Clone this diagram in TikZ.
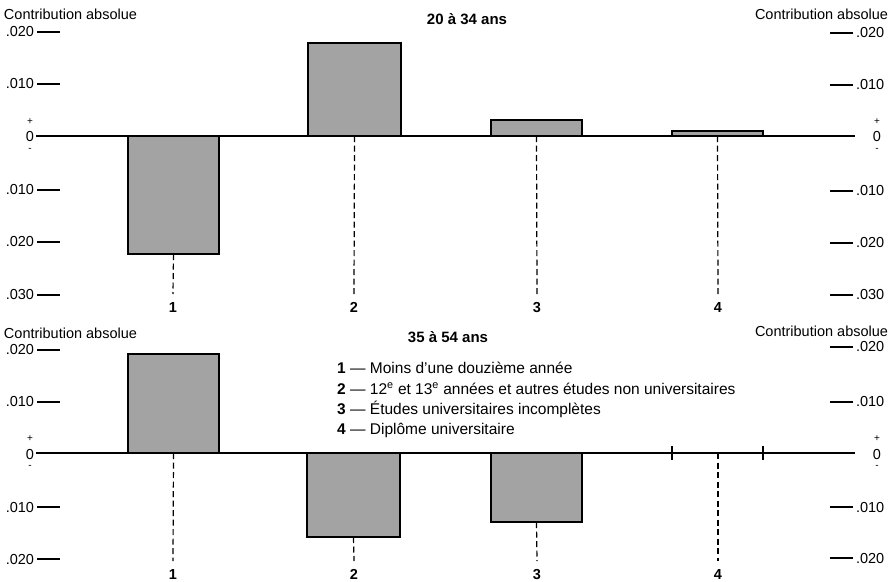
\documentclass[tikz,border=0pt]{standalone}
\usepackage{fontspec}
\setmainfont{Liberation Sans}
\begin{document}
\begin{tikzpicture}[x=1pt,y=-1pt,
  font=\fontsize{14.5}{17}\selectfont,
  axisline/.style={line width=1.7pt},
  tk/.style={line width=1.4pt},
  bar/.style={draw, line width=1.6pt, fill=black!36, inner sep=0pt, outer sep=0pt},
  dsh/.style={line width=1.2pt, dash pattern=on 6pt off 3.5pt},
  lab/.style={inner sep=0pt, outer sep=0pt},
  catlab/.style={inner sep=0pt, anchor=base, font=\fontsize{14.5}{17}\selectfont\bfseries},
  sign/.style={inner sep=0pt, font=\fontsize{10}{10}\selectfont},
  legend/.style={inner sep=0pt, anchor=base west, font=\fontsize{15.5}{18}\selectfont},
  title/.style={inner sep=0pt, font=\fontsize{15}{18}\selectfont\bfseries}]
\useasboundingbox (0,0) rectangle (896,581);

% ================= top panel =================
\node[lab, anchor=west] (ctl) at (4,14) {Contribution absolue};
\node[lab, anchor=east] (ctr) at (888,14) {Contribution absolue};
\node[title] (t1) at (467,19) {20 à 34 ans};

\foreach \y/\t [count=\i] in {32/.020, 84/.010, 190/.010, 242/.020, 295/.030} {
  \node[lab, anchor=east] (tl\i) at (34,\y) {\t};
  \draw[tk] ([xshift=3pt]tl\i.east) -- ++(23,0);
}
\foreach \y/\t [count=\i] in {33/.020, 85/.010, 191/.010, 243/.020, 295/.030} {
  \node[lab, anchor=west] (tr\i) at (856,\y) {\t};
  \draw[tk] ([xshift=-3pt]tr\i.west) -- ++(-23,0);
}
\node[lab] (tz0) at (30,137) {0};
\node[sign] (tp0) at (30,122) {+};
\node[sign] (tm0) at (30,150) {-};
\node[lab] (tzr) at (877,137) {0};
\node[sign] (tpr) at (877,122) {+};
\node[sign] (tmr) at (877,150) {-};
\coordinate (ta0) at (36,136);
\coordinate (ta1) at (855,136);
\draw[axisline] (ta0) -- (ta1);

\node[bar, anchor=north west, minimum width=91pt, minimum height=118pt] (tb1) at (128,136) {};
\node[bar, anchor=south west, minimum width=93pt, minimum height=93pt] (tb2) at (308,136) {};
\node[bar, anchor=south west, minimum width=91pt, minimum height=16pt] (tb3) at (491,136) {};
\node[bar, anchor=south west, minimum width=91pt, minimum height=5pt] (tb4) at (672,136) {};

\foreach \x/\n in {173/1, 354/2, 537/3, 718/4} {
  \node[catlab] (tc\n) at (\x,312) {\n};
  \coordinate (te\n) at (\x,294);
}
\draw[dsh] (tb1.south) -- (te1);
\draw[dsh] (tb2.south) -- (te2);
\draw[dsh] (tb3.south) -- (te3);
\draw[dsh] (tb4.south) -- (te4);

% ================= bottom panel =================
\node[lab, anchor=west] (cbl) at (4,333) {Contribution absolue};
\node[lab, anchor=east] (cbr) at (888,331) {Contribution absolue};
\node[title] (t2) at (448,337) {35 à 54 ans};

\foreach \y/\t [count=\i] in {350/.020, 402/.010, 507/.010, 559/.020} {
  \node[lab, anchor=east] (bl\i) at (34,\y) {\t};
  \draw[tk] ([xshift=3pt]bl\i.east) -- ++(23,0);
}
\foreach \y/\t [count=\i] in {347/.020, 402/.010, 507/.010, 558/.020} {
  \node[lab, anchor=west] (br\i) at (856,\y) {\t};
  \draw[tk] ([xshift=-3pt]br\i.west) -- ++(-23,0);
}
\node[lab] (bz0) at (30,454) {0};
\node[sign] (bp0) at (30,439) {+};
\node[sign] (bm0) at (30,467) {-};
\node[lab] (bzr) at (877,454) {0};
\node[sign] (bpr) at (877,439) {+};
\node[sign] (bmr) at (877,467) {-};
\coordinate (ba0) at (36,453);
\coordinate (ba1) at (855,453);
\draw[axisline] (ba0) -- (ba1);

\node[bar, anchor=south west, minimum width=91pt, minimum height=99pt] (bb1) at (128,453) {};
\node[bar, anchor=north west, minimum width=93pt, minimum height=84pt] (bb2) at (307,453) {};
\node[bar, anchor=north west, minimum width=91pt, minimum height=69pt] (bb3) at (491,453) {};
\coordinate (bb4l) at (672,453);
\coordinate (bb4r) at (763,453);
\coordinate (bb4) at (718,453);
\draw[tk] ([yshift=-7pt]bb4l) -- ([yshift=7pt]bb4l);
\draw[tk] ([yshift=-7pt]bb4r) -- ([yshift=7pt]bb4r);

\foreach \x/\n in {173/1, 354/2, 537/3, 718/4} {
  \node[catlab] (bc\n) at (\x,579) {\n};
  \coordinate (be\n) at (\x,561);
}
\draw[dsh] (bb1.south) -- (be1);
\draw[dsh] (bb2.south) -- (be2);
\draw[dsh] (bb3.south) -- (be3);
\draw[dsh] (bb4) -- (be4);

% legend
\node[legend] (lg1) at (337,373) {\textbf{1} \textemdash{} Moins d'une douzième année};
\node[legend] (lg2) at (337,394) {\textbf{2} \textemdash{} 12\textsuperscript{e} et 13\textsuperscript{e} années et autres études non universitaires};
\node[legend] (lg3) at (337,414) {\textbf{3} \textemdash{} Études universitaires incomplètes};
\node[legend] (lg4) at (337,434) {\textbf{4} \textemdash{} Diplôme universitaire};
\end{tikzpicture}
\end{document}
